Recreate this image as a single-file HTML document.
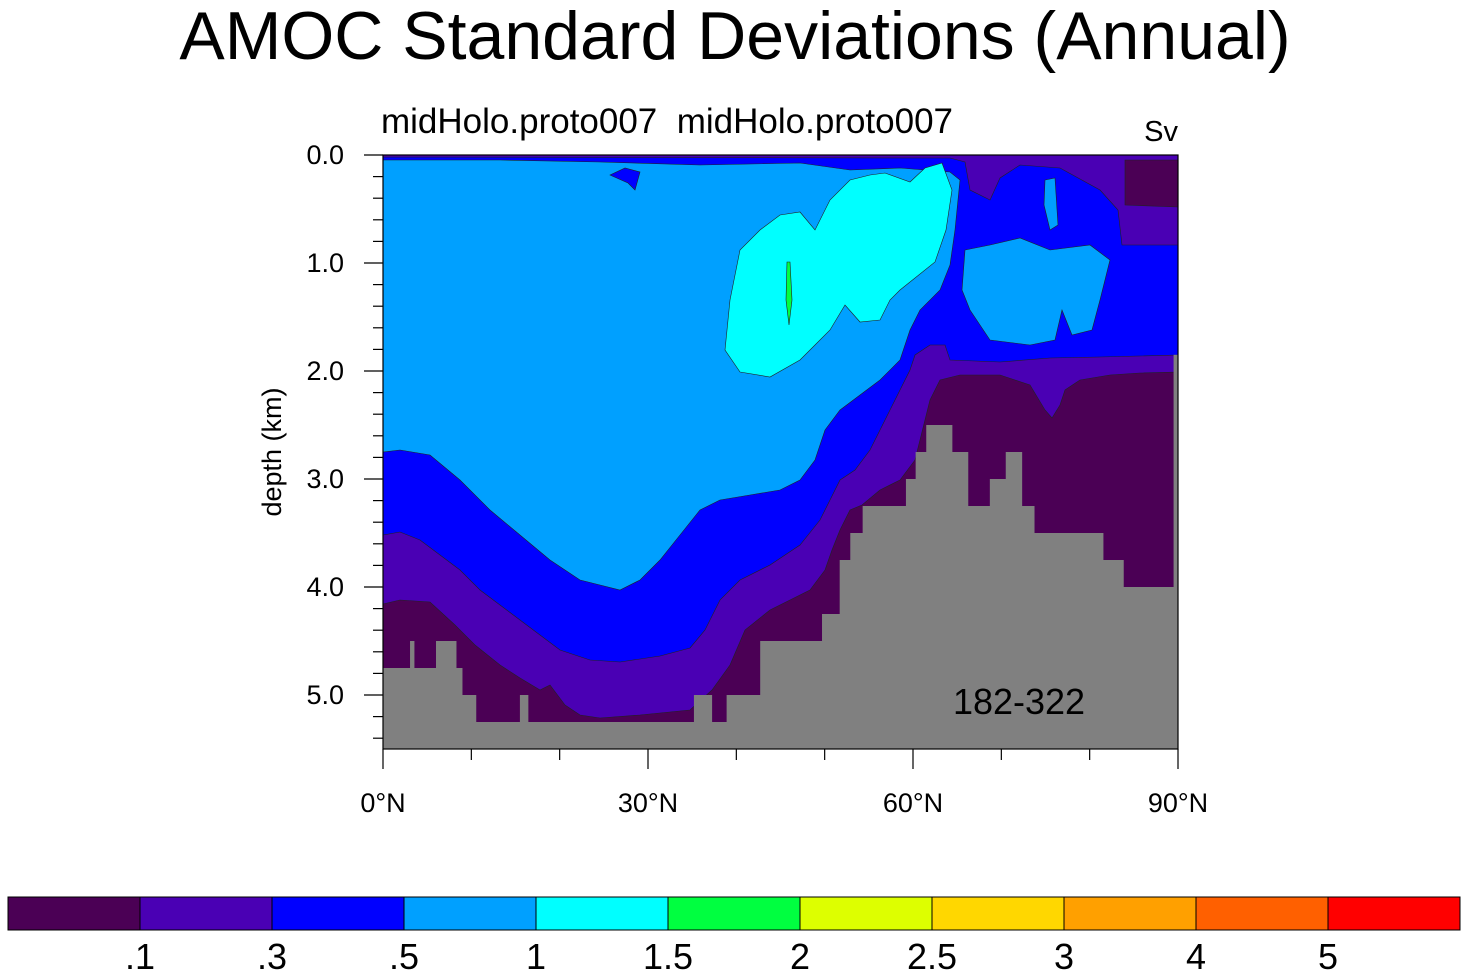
<!DOCTYPE html>
<html><head><meta charset="utf-8"><style>
body{margin:0;background:#fff;}
svg{display:block;font-family:"Liberation Sans",sans-serif;}
</style></head><body>
<svg id="c" width="1468" height="978" viewBox="0 0 1468 978">
<text x="735" y="59" font-size="68" text-anchor="middle">AMOC Standard Deviations (Annual)</text>
<text x="381" y="133" font-size="35" xml:space="preserve" style="white-space:pre">midHolo.proto007  midHolo.proto007</text>
<text x="1178" y="141" font-size="29" text-anchor="end">Sv</text>
<text transform="translate(281,452) rotate(-90)" font-size="27" text-anchor="middle">depth (km)</text>
<g id="plot"></g>
<g id="axes"></g>
<g id="cbar"></g>
</svg>
<script>
const NS="http://www.w3.org/2000/svg";
const levelLabels=[".1",".3",".5","1","1.5","2","2.5","3","4","5"];
const levelColors=["#4b0055","#4a00b4","#0000ff","#00a0ff","#00ffff","#00ff40","#ddff00","#ffd700","#ffa000","#ff6000","#ff0000"];
const yTicks=[0,1,2,3,4,5];
const yTickLabels=["0.0","1.0","2.0","3.0","4.0","5.0"];
const xTicks=[0,30,60,90];
const xTickLabels=["0°N","30°N","60°N","90°N"];
// bathymetry steps: lat edges and bottom depth (km)
const bathLat=[0,3.06,3.5,6.0,8.26,8.94,10.5,15.5,16.4,35.2,37.2,38.9,42.7,49.7,51.7,52.9,54.3,59.2,60.3,61.5,64.4,66.2,68.7,70.5,72.3,73.7,81.5,83.8,89.5,90];
const bathDepth=[4.75,4.5,4.75,4.5,4.75,5.0,5.25,5.0,5.25,5.0,5.25,5.0,4.5,4.25,3.75,3.5,3.25,3.0,2.75,2.5,2.75,3.25,3.0,2.75,3.25,3.5,3.75,4.0,1.85];
// contour polygons: [lat, depth] pairs
const px=(x)=>(x-383)/8.8333, py=(y)=>(y-155)/108;
function P(a){const r=[];for(let i=0;i<a.length;i+=2)r.push([px(a[i]),py(a[i+1])]);return r;}
const band1=P([383,155,1178,155,1178,372,1140,373,1110,375,1080,380,1065,390,1060,405,1052,418,1045,410,1030,385,1000,375,960,375,940,380,930,400,915,460,900,480,880,490,862,505,850,510,840,530,832,550,825,570,810,590,790,600,770,610,745,630,730,665,712,690,690,710,640,715,600,718,580,715,565,705,550,685,540,690,520,678,500,665,475,645,455,625,430,602,400,600,383,604]);
const band1Top=P([1125,160,1178,160,1178,207,1125,205]);
const band2=P([383,157,950,158,965,162,970,190,990,200,1000,178,1020,165,1060,168,1100,190,1118,210,1122,245,1178,245,1178,355,1100,357,1050,358,1000,362,950,360,945,345,930,345,915,355,910,370,895,400,885,420,870,450,855,470,840,480,830,500,820,520,800,545,770,565,740,580,720,600,705,630,690,648,660,656,620,662,590,660,560,650,540,635,520,620,500,605,480,590,460,570,440,555,420,540,400,532,383,535]);
const band3=P([383,160,500,160,600,162,700,165,800,163,850,170,900,168,950,172,960,180,955,230,950,265,940,290,920,310,910,330,900,360,880,380,860,395,840,410,825,430,815,460,800,480,780,490,750,495,720,500,700,510,680,535,660,560,640,580,620,590,600,585,580,580,550,560,520,535,490,510,460,480,430,455,400,450,383,452]);
const band3N=P([965,250,990,245,1020,238,1050,250,1090,245,1110,260,1100,300,1092,330,1072,335,1062,310,1055,340,1030,345,990,340,970,310,962,290]);
const band3N2=P([1045,180,1055,178,1058,225,1050,230,1044,205]);
const blob2=P([610,175,625,168,640,172,635,190,628,183]);
const band4=P([725,350,730,300,740,250,760,230,780,215,800,212,815,230,830,200,850,180,870,175,885,173,910,182,925,168,942,163,952,190,946,230,935,262,915,278,900,290,890,300,880,320,860,322,845,305,830,330,815,345,800,360,770,377,740,372]);
const band5=P([787,262,790,262,792,300,789,325,786,300]);
function poly(pts,fill,name){const p=document.createElementNS(NS,"polygon");
p.setAttribute("points",pts.map(q=>xs(q[0])+","+ys(q[1])).join(" "));
p.setAttribute("fill",fill);p.setAttribute("stroke","#222");p.setAttribute("stroke-width","0.6");


return p;}
const X0=383,X1=1178,Y0=155,KM=108;
function xs(l){return X0+(X1-X0)*l/90;}
function ys(d){return Y0+KM*d;}
const plot=document.getElementById("plot");
const bg=document.createElementNS(NS,"rect");
bg.setAttribute("x",X0);bg.setAttribute("y",Y0);bg.setAttribute("width",X1-X0);bg.setAttribute("height",KM*5.5);bg.setAttribute("fill",levelColors[0]);


plot.appendChild(bg);
plot.appendChild(poly(band1,levelColors[1],"band-0.1-0.3"));
plot.appendChild(poly(band1Top,levelColors[0],"band-below-0.1-north"));
plot.appendChild(poly(band2,levelColors[2],"band-0.3-0.5"));
plot.appendChild(poly(band3,levelColors[3],"band-0.5-1"));
plot.appendChild(poly(band3N,levelColors[3],"band-0.5-1-north"));
plot.appendChild(poly(band3N2,levelColors[3],"band-0.5-1-north-small"));
plot.appendChild(poly(blob2,levelColors[2],"band-0.3-0.5-blob"));
plot.appendChild(poly(band4,levelColors[4],"band-1-1.5"));
plot.appendChild(poly(band5,levelColors[5],"band-1.5-2"));
for(let i=0;i<bathDepth.length;i++){
 const r=document.createElementNS(NS,"rect");
 const x=xs(bathLat[i]),w=xs(bathLat[i+1])-x,y=ys(bathDepth[i]);
 r.setAttribute("x",x);r.setAttribute("y",y);r.setAttribute("width",w+0.5);r.setAttribute("height",ys(5.5)-y);r.setAttribute("fill","#808080");
 
 
 plot.appendChild(r);
}
const ann=document.createElementNS(NS,"text");
ann.setAttribute("x",1019);ann.setAttribute("y",714);ann.setAttribute("font-size","36");ann.setAttribute("text-anchor","middle");ann.textContent="182-322";


plot.appendChild(ann);
const axes=document.getElementById("axes");
function line(x1,y1,x2,y2,name){const l=document.createElementNS(NS,"line");
l.setAttribute("x1",x1);l.setAttribute("y1",y1);l.setAttribute("x2",x2);l.setAttribute("y2",y2);l.setAttribute("stroke","#000");l.setAttribute("stroke-width","1.2");


axes.appendChild(l);}
const fr=document.createElementNS(NS,"rect");
fr.setAttribute("x",X0);fr.setAttribute("y",Y0);fr.setAttribute("width",X1-X0);fr.setAttribute("height",KM*5.5);fr.setAttribute("fill","none");fr.setAttribute("stroke","#000");fr.setAttribute("stroke-width","1.2");


axes.appendChild(fr);
for(let d=0;d<=5.41;d+=0.2){const major=Math.abs(d-Math.round(d))<0.01;line(major?364:373,ys(d),X0,ys(d),"y-tick");}
yTicks.forEach((d,i)=>{const t=document.createElementNS(NS,"text");t.setAttribute("x",344);t.setAttribute("y",ys(d)+9);t.setAttribute("font-size","27");t.setAttribute("text-anchor","end");t.textContent=yTickLabels[i];


axes.appendChild(t);});
for(let l=0;l<=90;l+=10){const major=l%30===0;line(xs(l),ys(5.5),xs(l),ys(5.5)+(major?20:11),"x-tick");}
xTicks.forEach((l,i)=>{const t=document.createElementNS(NS,"text");t.setAttribute("x",xs(l));t.setAttribute("y",812);t.setAttribute("font-size","27");t.setAttribute("text-anchor","middle");t.textContent=xTickLabels[i];


axes.appendChild(t);});
const cb=document.getElementById("cbar");
const cw=(1460-8)/levelColors.length;
levelColors.forEach((c,i)=>{const r=document.createElementNS(NS,"rect");
r.setAttribute("x",8+i*cw);r.setAttribute("y",897);r.setAttribute("width",cw);r.setAttribute("height",33);r.setAttribute("fill",c);r.setAttribute("stroke","#000");r.setAttribute("stroke-width","1");


cb.appendChild(r);});
levelLabels.forEach((s,i)=>{const t=document.createElementNS(NS,"text");t.setAttribute("x",8+(i+1)*cw);t.setAttribute("y",969);t.setAttribute("font-size","36");t.setAttribute("text-anchor","middle");t.textContent=s;


cb.appendChild(t);});
</script>
</body></html>
